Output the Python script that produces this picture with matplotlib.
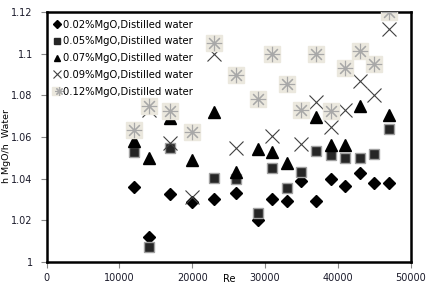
import matplotlib
matplotlib.use("Agg")
import matplotlib.pyplot as plt
from matplotlib.legend_handler import HandlerTuple

re_vals = [12000, 14000, 17000, 20000, 23000, 26000, 29000, 31000, 33000, 35000,
           37000, 39000, 41000, 43000, 45000, 47000]

h_002 = [1.036, 1.012, 1.0325, 1.029, 1.030, 1.033, 1.020, 1.030, 1.0295, 1.039,
         1.0295, 1.040, 1.0365, 1.0425, 1.038, 1.038]
h_005 = [1.053, 1.007, 1.0545, None, 1.0405, 1.0397, 1.0237, 1.045, 1.0354, 1.043,
         1.0533, 1.0514, 1.0498, 1.0498, 1.0517, 1.0637]
h_007 = [1.058, 1.0498, 1.069, 1.049, 1.072, 1.0434, 1.054, 1.053, 1.0474, None,
         1.0698, 1.056, 1.056, 1.075, None, 1.0706]
h_009 = [None, 1.073, 1.057, 1.031, 1.100, 1.0546, None, 1.0605, None, 1.0565,
         1.077, 1.0647, 1.073, 1.087, 1.080, 1.112]
h_012 = [1.0634, 1.075, 1.0725, 1.0626, 1.105, 1.0898, 1.078, 1.100, 1.0853, 1.073,
         1.100, 1.0725, 1.093, 1.1014, 1.095, 1.120]

labels = ["0.02%MgO,Distilled water", "0.05%MgO,Distilled water",
          "0.07%MgO,Distilled water", "0.09%MgO,Distilled water",
          "0.12%MgO,Distilled water"]

def pts(ys):
    xs, yy = [], []
    for x, y in zip(re_vals, ys):
        if y is not None:
            xs.append(x); yy.append(y)
    return xs, yy

fig = plt.figure(figsize=(4.34, 2.90), dpi=100)
ax = fig.add_axes([0.1076, 0.0966, 0.8387, 0.862])

x, y = pts(h_002)
ax.plot(x, y, ls='none', marker='D', ms=6, mfc='black', mec='black', zorder=3)
x, y = pts(h_005)
ax.plot(x, y, ls='none', marker='s', ms=7.5, mfc='#262626', mec='#a0a0a0', mew=1.0, zorder=4)
x, y = pts(h_007)
ax.plot(x, y, ls='none', marker='^', ms=8.5, mfc='black', mec='black', zorder=5)
x, y = pts(h_009)
ax.plot(x, y, ls='none', marker='x', ms=10.5, mec='#404040', mew=0.8, zorder=6)
x, y = pts(h_012)
ax.plot(x, y, ls='none', marker='s', ms=11.5, mfc='#ebe8de', mec='#ebe8de', zorder=7)
ax.plot(x, y, ls='none', marker=(8, 2, 0), ms=11, mec='#a8a8a8', mew=0.8, zorder=8)

ax.set_xlim(0, 50000)
ax.set_ylim(1.0, 1.12)
ax.set_xticks([0, 10000, 20000, 30000, 40000, 50000])
ax.set_xticklabels(["0", "10000", "20000", "30000", "40000", "50000"])
ax.set_yticks([1.0, 1.02, 1.04, 1.06, 1.08, 1.1, 1.12])
ax.set_yticklabels(["1", "1.02", "1.04", "1.06", "1.08", "1.1", "1.12"])
ax.tick_params(axis='both', direction='out', length=4, width=0.8, color='#888888',
               labelsize=7, labelcolor='#1a1a2a')
ax.tick_params(axis='y', pad=6)
ax.tick_params(axis='x', pad=4)
for s in ax.spines.values():
    s.set_linewidth(1.8)
    s.set_color('black')

h1, = ax.plot([], [], ls='none', marker='D', ms=4, mfc='black', mec='black')
h2, = ax.plot([], [], ls='none', marker='s', ms=5, mfc='#262626', mec='#262626')
h3, = ax.plot([], [], ls='none', marker='^', ms=5, mfc='black', mec='black')
h4, = ax.plot([], [], ls='none', marker='x', ms=6, mec='#404040', mew=0.8)
h5a, = ax.plot([], [], ls='none', marker='s', ms=6, mfc='#ebe8de', mec='#ebe8de')
h5b, = ax.plot([], [], ls='none', marker=(8, 2, 0), ms=6, mec='#a8a8a8', mew=0.8)

leg = ax.legend([h1, h2, h3, h4, (h5a, h5b)], labels, loc='upper left',
                frameon=False, fontsize=7.2, handlelength=0.6, handletextpad=0.25,
                labelspacing=0.68, borderaxespad=0.35,
                handler_map={tuple: HandlerTuple(ndivide=None, pad=0)})
leg.set_zorder(10)

fig.text(7 / 434, 1 - 146 / 290, "h MgO/h  Water", rotation=90, fontsize=6.8,
         ha='center', va='center')
fig.text(229 / 434, 1 - 279 / 290, "Re", fontsize=7, ha='center', va='center')

fig.savefig("out.png", dpi=100)
